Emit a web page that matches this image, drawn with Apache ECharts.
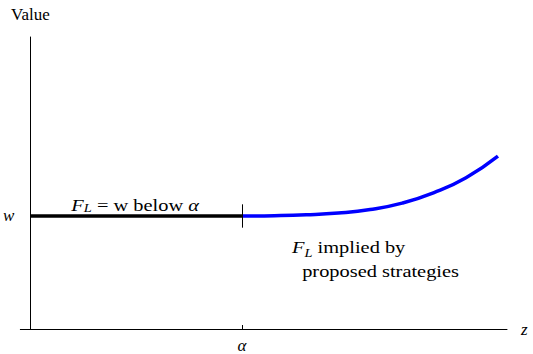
<!DOCTYPE html>
<html>
<head>
<meta charset="utf-8">
<script src="https://cdn.jsdelivr.net/npm/echarts@6/dist/echarts.min.js"></script>
<style>
  html, body { margin: 0; padding: 0; background: #fff; }
  #chart { width: 533px; height: 354px; }
</style>
</head>
<body>
<div id="chart"></div>
<script>
// Threshold level and switching point
const alpha = 0.444;
const w = 0.387;

// Flat segment: F_L = w below alpha
const flatZ = [0, alpha];
const flatV = [w, w];

// F_L implied by the proposed strategies (above alpha)
const curveZ = [0.444, 0.512, 0.579, 0.646, 0.713, 0.780, 0.847, 0.914, 0.981];
const curveV = [0.387, 0.388, 0.391, 0.397, 0.409, 0.431, 0.467, 0.518, 0.592];

// Axis labels
const xTickValues = [alpha];
const xTickLabels = ['α'];
const yTickValues = [w];
const yTickLabels = ['w'];

const serif = 'Liberation Serif';
const zip = (a, b) => a.map((v, i) => [v, b[i]]);

const chart = echarts.init(document.getElementById('chart'), null, { renderer: 'svg' });

chart.setOption({
  animation: false,
  backgroundColor: '#ffffff',
  textStyle: { fontFamily: serif },
  grid: { left: 20, right: 26, top: 37, bottom: 25, containLabel: false },
  xAxis: {
    type: 'value',
    min: -0.021,
    max: 1,
    name: 'z',
    nameLocation: 'end',
    nameGap: 14,
    nameTextStyle: { fontFamily: serif, fontStyle: 'italic', fontSize: 17, color: '#000', verticalAlign: 'middle' },
    splitLine: { show: false },
    axisLine: { onZero: false, lineStyle: { color: '#000', width: 1 } },
    axisTick: { show: true, inside: true, length: 4, customValues: xTickValues, lineStyle: { color: '#000' } },
    axisLabel: {
      customValues: xTickValues,
      formatter: v => xTickLabels[xTickValues.indexOf(v)] ?? '',
      fontFamily: serif, fontStyle: 'italic', fontSize: 17, color: '#000', margin: 8
    }
  },
  yAxis: {
    type: 'value',
    min: 0,
    max: 1,
    name: 'Value',
    nameLocation: 'end',
    nameGap: 14,
    nameTextStyle: { fontFamily: serif, fontSize: 17, color: '#000', align: 'center' },
    splitLine: { show: false },
    axisLine: { onZero: true, lineStyle: { color: '#000', width: 1 } },
    axisTick: { show: true, inside: true, length: 4, customValues: yTickValues, lineStyle: { color: '#000' } },
    axisLabel: {
      customValues: yTickValues,
      formatter: v => yTickLabels[yTickValues.indexOf(v)] ?? '',
      fontFamily: serif, fontStyle: 'italic', fontSize: 17, color: '#000', margin: 6
    }
  },
  series: [
    {
      type: 'line',
      data: zip(flatZ, flatV),
      symbol: 'none',
      lineStyle: { color: '#000', width: 3.5 },
      z: 3,
      markLine: {
        silent: true,
        symbol: ['none', 'none'],
        label: { show: false },
        lineStyle: { color: '#000', width: 1, type: 'solid' },
        data: [[{ coord: [alpha, w - 0.04] }, { coord: [alpha, w + 0.04] }]]
      }
    },
    {
      type: 'line',
      data: zip(curveZ, curveV),
      symbol: 'none',
      smooth: 0.5,
      lineStyle: { color: '#0000ff', width: 3.5 },
      z: 2
    }
  ]
});

// Text annotations, anchored in data coordinates
const p1 = chart.convertToPixel({ gridIndex: 0 }, [alpha / 2, w]);
const p2 = chart.convertToPixel({ gridIndex: 0 }, [alpha, w]);
const rich = {
  i: { fontFamily: serif, fontStyle: 'italic', fontSize: 17 },
  sub: { fontFamily: serif, fontStyle: 'italic', fontSize: 12, verticalAlign: 'bottom', padding: [6, 0, 0, 0] },
  n: { fontFamily: serif, fontStyle: 'normal', fontSize: 17 }
};
chart.setOption({
  graphic: [
    {
      type: 'text',
      x: p1[0] - 1, y: p1[1] - 11,
      scaleX: 1.2,
      style: {
        text: '{i|F}{sub|L}{n| = w below }{i|α}',
        rich: rich,
        fontFamily: serif,
        fontSize: 17,
        fill: '#000',
        align: 'center',
        verticalAlign: 'middle'
      }
    },
    {
      type: 'text',
      x: p2[0] + 50, y: p2[1] + 19,
      scaleX: 1.2,
      style: {
        text: '{i|F}{sub|L}{n| implied by}\n{n|  proposed strategies}',
        rich: rich,
        fontFamily: serif,
        fontSize: 17,
        fill: '#000',
        align: 'left',
        verticalAlign: 'top',
        lineHeight: 24
      }
    }
  ]
});
</script>
</body>
</html>
